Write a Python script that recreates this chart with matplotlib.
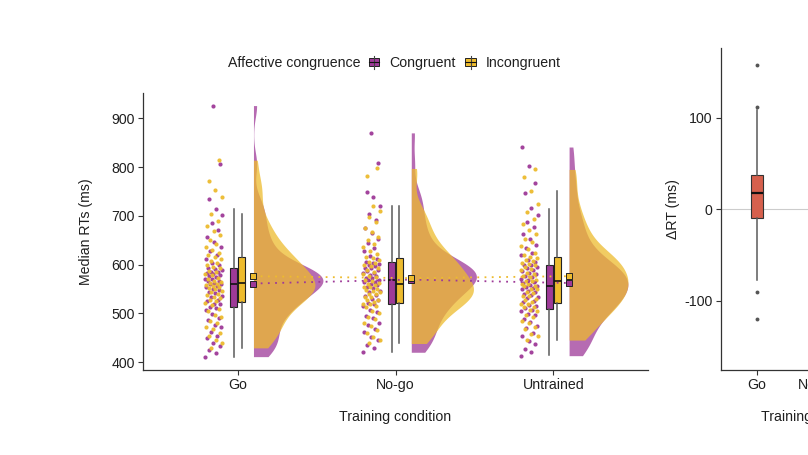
# importing libraries
import numpy as np
import matplotlib.pyplot as plt
from matplotlib.patches import Patch, Rectangle
from matplotlib.lines import Line2D
from matplotlib.legend_handler import HandlerBase

plt.rcParams['font.family'] = ['Liberation Sans', 'DejaVu Sans']
plt.rcParams['font.size'] = 10.2
plt.rcParams['axes.unicode_minus'] = False

# categories
conditions = ['Go', 'No-go', 'Untrained']
groups = ['Congruent', 'Incongruent']

go_con = [411, 419, 424, 433, 440, 449, 453, 462, 471, 476, 487, 491, 499, 506, 510,
          513, 518, 520, 526, 528, 534, 536, 541, 543, 548, 550, 554, 556, 559, 561,
          562, 566, 567, 570, 571, 574, 576, 578, 580, 582, 584, 585, 588, 590, 592,
          598, 604, 611, 619, 627, 636, 646, 657, 670, 685, 701, 714, 734, 806, 926]
go_inc = [429, 438, 445, 453, 459, 467, 472, 480, 485, 493, 497, 505, 509, 517, 521,
          525, 527, 532, 533, 538, 540, 544, 545, 549, 552, 553, 556, 558, 560, 562,
          565, 567, 571, 573, 578, 580, 585, 587, 592, 595, 600, 603, 608, 611, 615,
          619, 624, 630, 636, 643, 651, 660, 668, 679, 690, 703, 738, 752, 771, 814]
nogo_con = [420, 428, 435, 445, 451, 461, 467, 476, 481, 490, 495, 503, 507, 514, 518,
            522, 527, 529, 535, 537, 543, 545, 551, 553, 558, 559, 564, 565, 568, 569,
            572, 573, 577, 578, 582, 583, 587, 588, 592, 593, 597, 598, 602, 603, 606,
            612, 617, 627, 633, 644, 652, 665, 675, 691, 704, 719, 739, 749, 808, 870]
nogo_inc = [438, 446, 451, 460, 465, 474, 479, 488, 493, 501, 505, 512, 514, 519, 520,
            523, 527, 528, 533, 534, 539, 540, 544, 545, 548, 549, 553, 554, 557, 559,
            562, 567, 569, 574, 576, 581, 584, 589, 592, 597, 599, 604, 606, 610, 613,
            616, 622, 628, 636, 642, 650, 657, 667, 675, 687, 697, 710, 719, 781, 797]
un_con = [413, 421, 427, 437, 443, 453, 459, 469, 474, 483, 488, 496, 499, 505, 507,
          510, 515, 517, 523, 525, 531, 533, 538, 539, 544, 545, 550, 551, 554, 556,
          558, 563, 564, 569, 570, 575, 576, 581, 582, 587, 588, 593, 594, 598, 600,
          606, 610, 619, 624, 634, 641, 653, 662, 676, 687, 702, 716, 747, 767, 803, 841]
un_inc = [445, 453, 458, 467, 472, 481, 485, 493, 497, 504, 506, 512, 513, 518, 520,
          524, 528, 529, 535, 536, 542, 544, 549, 550, 555, 556, 561, 561, 566, 567,
          569, 574, 576, 580, 583, 588, 590, 595, 598, 602, 604, 608, 610, 613, 615,
          619, 624, 631, 637, 646, 653, 663, 671, 683, 693, 708, 724, 750, 780, 795]

# boxplot summaries (Go, No-go, Untrained)
con_q1 = [512, 520, 508]
con_med = [561, 569, 556]
con_q3 = [592, 606, 600]
con_lo = [411, 420, 414]
con_hi = [714, 719, 714]
inc_q1 = [524, 522, 521]
inc_med = [562, 559, 567]
inc_q3 = [615, 613, 615]
inc_lo = [429, 438, 445]
inc_hi = [703, 719, 750]

# condition means
con_mean = [561, 569, 562]
inc_mean = [576, 572, 576]

# delta RT (incongruent - congruent) for the Go condition
diff_q1 = [-9.5]
diff_med = [18]
diff_q3 = [37.5]
diff_lo = [-77]
diff_hi = [108]
diff_out = [157, 112, -90, -120]

purple = '#9E3A98'
yellow = '#EDBB2E'
red = '#D6604D'
dark = '#1f1f1f'


def kde(vals, grid):
	vals = np.asarray(vals, float)
	n = len(vals)
	q75, q25 = np.percentile(vals, [75, 25])
	bw = 0.9 * min(vals.std(ddof=1), (q75 - q25) / 1.34) * n ** -0.2
	z = (grid[:, None] - vals[None, :]) / bw
	return np.exp(-0.5 * z ** 2).sum(1) / (n * bw * np.sqrt(2 * np.pi))


class BoxKey(HandlerBase):
	# small boxplot glyph for the legend
	def create_artists(self, legend, orig_handle, xd, yd, w, h, fontsize, trans):
		x0, y0 = -xd, -yd
		fc = orig_handle.get_facecolor()
		wl = Line2D([x0 + w / 2] * 2, [y0 - h * 0.1, y0 + h * 1.1], color='#444444', lw=0.8, transform=trans)
		box = Rectangle((x0 + w * 0.05, y0 + h * 0.12), w * 0.9, h * 0.76, facecolor=fc, edgecolor='#222222', lw=0.7, transform=trans)
		md = Line2D([x0 + w * 0.05, x0 + w * 0.95], [y0 + h / 2] * 2, color='#111111', lw=0.8, transform=trans)
		return [box, wl, md]


def driver():

	fig = plt.figure(figsize=(8.08, 4.55), dpi=100)
	ax = fig.add_axes([143 / 808, 85 / 455, 505 / 808, 277 / 455])
	ax2 = fig.add_axes([721 / 808, 85 / 455, 192 / 808, 322 / 455])

	data = [[go_con, go_inc], [nogo_con, nogo_inc], [un_con, un_inc]]
	colors = [purple, yellow]
	pos = np.arange(1, len(conditions) + 1)

	# half violins (clouds), trimmed to the data range
	clouds = []
	for i in range(len(conditions)):
		for j in range(len(groups)):
			v = np.asarray(data[i][j], float)
			grid = np.linspace(v.min(), v.max(), 512)
			clouds.append((i, j, grid, kde(v, grid)))
	scale = 0.44 / max(d.max() for _, _, _, d in clouds)
	for i, j, grid, d in clouds:
		ax.fill_betweenx(grid, pos[i] + 0.1, pos[i] + 0.1 + d * scale,
			color=colors[j], alpha=0.75, lw=0, zorder=1)

	# jittered points (rain)
	for i in range(len(conditions)):
		for j in range(len(groups)):
			v = np.asarray(data[i][j], float)
			jit = ((np.arange(len(v)) * 0.618034 + 0.37 * j) % 1 - 0.5) * 0.11
			ax.scatter(pos[i] - 0.152 + jit, v, s=9, color=colors[j], lw=0, alpha=0.95, zorder=2)

	# boxplots
	stats = [[con_q1, con_med, con_q3, con_lo, con_hi], [inc_q1, inc_med, inc_q3, inc_lo, inc_hi]]
	for j in range(len(groups)):
		q1, med, q3, lo, hi = stats[j]
		bs = [dict(q1=q1[i], med=med[i], q3=q3[i], whislo=lo[i], whishi=hi[i], fliers=[]) for i in range(len(conditions))]
		ax.bxp(bs, positions=pos - 0.025 + 0.05 * j, widths=0.047, patch_artist=True,
			showcaps=False, showfliers=False, manage_ticks=False,
			boxprops=dict(facecolor=colors[j], edgecolor='#222222', lw=0.8),
			whiskerprops=dict(color='#5a5a5a', lw=1.1),
			medianprops=dict(color='#111111', lw=1.2), zorder=3)

	# means joined by dotted lines
	for j, m in enumerate([con_mean, inc_mean]):
		ax.plot(pos + 0.1, m, ls=(0, (1, 3)), color=colors[j], lw=1.3, zorder=4)
		ax.scatter(pos + 0.1, m, marker='s', s=20, facecolor=colors[j], edgecolor='#222222', lw=0.7, zorder=5)

	ax.set_xlim(0.4, 3.6)
	ax.set_ylim(383.6, 951.8)
	ax.set_xticks(pos)
	ax.set_xticklabels(conditions)
	ax.set_yticks([400, 500, 600, 700, 800, 900])
	ax.set_xlabel('Training condition', labelpad=13, color=dark)
	ax.set_ylabel('Median RTs (ms)', labelpad=13, color=dark)

	# right panel: delta RT (cut off by the figure edge, as in the source)
	ax2.axhline(0, color='#cccccc', lw=0.8, zorder=0)
	db = [dict(q1=diff_q1[0], med=diff_med[0], q3=diff_q3[0], whislo=diff_lo[0], whishi=diff_hi[0], fliers=diff_out)]
	ax2.bxp(db, positions=[1], widths=0.2, patch_artist=True, showcaps=False, manage_ticks=False,
		boxprops=dict(facecolor=red, edgecolor='#333333', lw=0.8),
		whiskerprops=dict(color='#5a5a5a', lw=1.1),
		medianprops=dict(color='#111111', lw=1.6),
		flierprops=dict(marker='o', markersize=2.8, markerfacecolor='#555555', markeredgecolor='none'), zorder=3)
	ax2.set_xlim(0.4, 3.6)
	ax2.set_ylim(-175.5, 176)
	ax2.set_xticks(pos)
	ax2.set_xticklabels(conditions)
	ax2.set_yticks([-100, 0, 100])
	ax2.set_xlabel('Training condition', labelpad=13, color=dark)
	ax2.set_ylabel('ΔRT (ms)', labelpad=3, color=dark)

	for a in (ax, ax2):
		a.spines[['top', 'right']].set_visible(False)
		for s in ('left', 'bottom'):
			a.spines[s].set_color('#333333')
			a.spines[s].set_linewidth(0.9)
		a.tick_params(direction='out', length=3.5, width=0.8, color='#333333', labelcolor=dark, pad=2.5)

	# legend
	fig.text(228 / 808, 1 - 63 / 455, 'Affective congruence', ha='left', va='center', color=dark)
	handles = [Patch(facecolor=c, label=g) for c, g in zip(colors, groups)]
	fig.legend(handles=handles, loc='center left', bbox_to_anchor=(368 / 808, 1 - 63 / 455), ncol=2,
		frameon=False, borderpad=0, borderaxespad=0, handlelength=0.8, handleheight=0.8,
		handletextpad=0.7, columnspacing=0.65, handler_map={Patch: BoxKey()}, labelcolor=dark)

	fig.savefig('out.png', dpi=100)
	return

# calling driver
driver()
